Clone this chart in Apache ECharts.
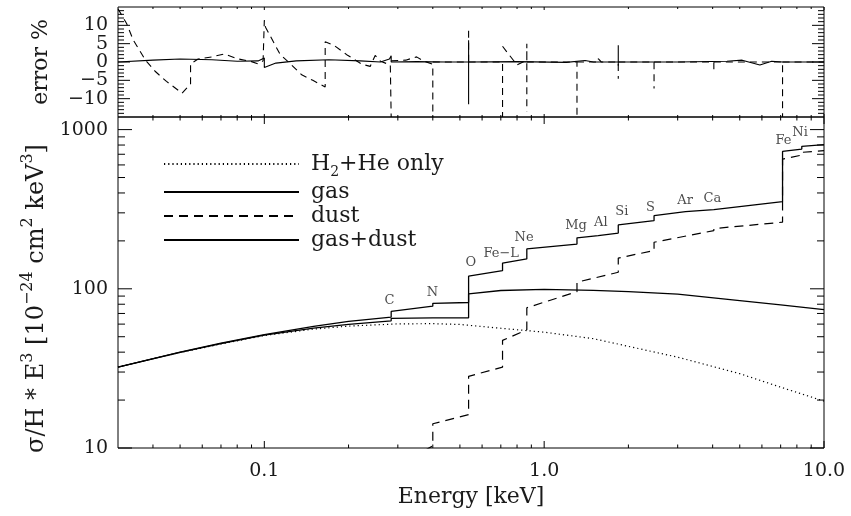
<!DOCTYPE html>
<html><head><meta charset="utf-8">
<script src="https://cdn.jsdelivr.net/npm/echarts@6/dist/echarts.min.js"></script>
<style>html,body{margin:0;padding:0;background:#fff}#c{width:851px;height:516px}</style>
</head><body><div id="c"></div>
<script>
// ---- series data [Energy keV, value] ----
const h2heOnly = [[0.03,32.2],[0.04,36.3],[0.05,39.8],[0.07,45],[0.1,50.9],[0.15,55.8],[0.2,58.3],[0.3,60.2],[0.4,60.4],[0.5,59.7],[0.7,56.5],[1,53.4],[1.5,48.6],[2,43.5],[3,37.2],[5,29.3],[7,24.1],[10,19.7]];
const gas = [[0.03,32.2],[0.05,39.9],[0.07,45.2],[0.1,51.2],[0.15,56.6],[0.2,59.8],[0.284,62.9],[0.284,65.2],[0.4,65.6],[0.537,65.8],[0.537,93],[0.7,97.6],[1,99.3],[1.5,97.8],[2,96],[3,92.5],[5,84.4],[7,79.3],[10,74]];
const dust = [[0.3,7.8],[0.40,10.3],[0.40,14.2],[0.537,16.2],[0.537,28.2],[0.71,32.2],[0.71,47.4],[0.867,55.3],[0.867,76],[1.31,96],[1.31,110],[1.84,127],[1.84,156],[2.47,174],[2.47,196],[4.04,232],[4.04,239],[7.11,262],[7.11,653],[8.33,692],[8.33,720],[10,738]];
const gasDust = [[0.03,32.2],[0.05,40],[0.07,45.6],[0.1,51.5],[0.1,52.2],[0.15,58],[0.2,62.4],[0.284,66.4],[0.284,72.1],[0.40,77.8],[0.40,81],[0.537,82],[0.537,120],[0.71,130],[0.71,145],[0.867,154],[0.867,178],[1.31,191],[1.31,209],[1.56,216],[1.56,218],[1.84,224],[1.84,252],[2.47,268],[2.47,288],[3.2,305],[3.2,310],[4.04,314],[4.04,322],[7.11,353],[7.11,729],[8.33,755],[8.33,785],[10,804]];
// ---- error panel [Energy keV, error %]; '-' marks a pen lift ----
const errSolid = [[0.03,0],[0.04,0.5],[0.05,0.8],[0.065,0.6],[0.08,0.2],[0.095,0.3],[0.1,1.1],[0.1,-1.5],[0.11,-0.3],[0.13,0.3],[0.17,0.6],[0.22,0.3],[0.26,0],[0.28,0.8],[0.284,1.7],[0.284,0],[0.35,0.1],[0.45,0],[0.537,0],[0.537,5.9],[0.537,-11.5],[0.537,0],[0.8,0.1],[1.2,-0.1],[1.4,0.4],[1.5,0],[1.84,0],[1.84,4.6],[1.84,-1],[1.84,0],[3,0],[4.5,0.2],[5.1,0.5],[5.9,-0.8],[6.5,0.2],[7.11,0],[10,0]];
const errDashed = [[0.03,14.5],[0.0322,10.5],[0.034,6],[0.0376,0.5],[0.0408,-2.6],[0.0447,-5.3],[0.0508,-8.5],[0.0545,-6],[0.0545,-0.5],[0.058,0.8],[0.065,1.4],[0.072,2.2],[0.08,0.9],[0.09,0.1],[0.095,-0.5],[0.099,0.3],[0.1,11.4],[0.101,9.5],[0.114,2],[0.122,0],[0.136,-3.5],[0.149,-5],[0.165,-6.8],[0.165,5.5],[0.177,4.6],[0.197,2],[0.223,-0.6],[0.239,-1.2],[0.249,1.8],[0.26,0.2],[0.282,-0.8],[0.284,-15],[0.284,'-'],[0.284,0.3],[0.32,0.5],[0.35,1.4],[0.37,0.3],[0.40,-0.6],[0.40,-15],[0.40,'-'],[0.40,0],[0.537,0],[0.537,9.6],[0.537,'-'],[0.537,0],[0.71,0],[0.71,-15],[0.71,'-'],[0.71,4.3],[0.74,2.5],[0.80,-0.8],[0.84,0],[0.867,0],[0.867,5],[0.867,-13.5],[0.867,'-'],[0.867,0],[1.31,0],[1.31,-15],[1.31,'-'],[1.31,0],[1.56,0],[1.56,0.9],[1.6,0],[1.84,0],[1.84,-4.6],[1.84,'-'],[1.84,0],[2.47,0],[2.47,-7.2],[2.47,'-'],[2.47,0],[4.04,0],[4.04,-2.2],[4.04,'-'],[4.04,0],[7.11,0],[7.11,-15],[7.11,'-'],[7.11,0],[10,0]];
// ---- edge annotations ----
const elemNames = ['C','N','O','Fe\u2212L','Ne','Mg','Al','Si','S','Ar','Ca','Fe','Ni'];
const elemPos = [[0.280,84.5],[0.399,94.4],[0.547,147],[0.702,167],[0.848,209],[1.30,250],[1.594,262],[1.894,306],[2.40,325],[3.19,358],[3.99,367],[7.16,851],[8.21,960]];
// ---- axis ticks ----
const xMajorTicks = [0.1, 1, 10];
const xMinorTicks = [0.04,0.05,0.06,0.07,0.08,0.09,0.2,0.3,0.4,0.5,0.6,0.7,0.8,0.9,2,3,4,5,6,7,8,9];
const yMajorTicks = [10, 100, 1000];
const yMinorTicks = [20,30,40,50,60,70,80,90,200,300,400,500,600,700,800,900];
const errTicks = [-14,-13,-12,-11,-10,-9,-8,-7,-6,-5,-4,-3,-2,-1,0,1,2,3,4,5,6,7,8,9,10,11,12,13,14];
const legendNames = ['H2+He only','gas','dust','gas+dust'];

const FONT = "'DejaVu Serif', serif";
const TXT = '#1a1a1a';
const X0 = 0.03, X1 = 10, Y0 = 10, Y1 = 1200, E0 = -15, E1 = 15;

function near(v, arr){ return arr.find(t => Math.abs(v - t) / Math.abs(t || 1) < 1e-6); }

function tickSeries(xi, yi, dir, ticks, other, lenMaj, lenMin) {
  return {
    type: 'custom', xAxisIndex: xi, yAxisIndex: yi, silent: true, z: 5, clip: false,
    data: ticks.map(t => dir === 'x' ? [t[0], other[0], t[1]] : [other[0], t[0], t[1]]),
    renderItem(params, api) {
      const v = api.value(dir === 'x' ? 0 : 1);
      const L = api.value(2) ? lenMaj : lenMin;
      const st = {stroke: '#000', lineWidth: 1};
      if (dir === 'x') {
        const a = api.coord([v, other[0]]), b = api.coord([v, other[1]]);
        return {type: 'group', children: [
          {type: 'line', shape: {x1: a[0], y1: a[1], x2: a[0], y2: a[1] - L}, style: st},
          {type: 'line', shape: {x1: b[0], y1: b[1], x2: b[0], y2: b[1] + L}, style: st}]};
      }
      const a = api.coord([other[0], v]), b = api.coord([other[1], v]);
      return {type: 'group', children: [
        {type: 'line', shape: {x1: a[0], y1: a[1], x2: a[0] + L, y2: a[1]}, style: st},
        {type: 'line', shape: {x1: b[0], y1: b[1], x2: b[0] - L, y2: b[1]}, style: st}]};
    }
  };
}

const xTicks = xMajorTicks.map(v => [v, 1]).concat(xMinorTicks.map(v => [v, 0]));
const yTicks = yMajorTicks.map(v => [v, 1]).concat(yMinorTicks.map(v => [v, 0]));
const eTicks = errTicks.map(v => [v, v % 5 === 0 ? 1 : 0]);

const chart = echarts.init(document.getElementById('c'), null, {renderer: 'canvas'});
const lineBase = {type: 'line', symbol: 'none', showSymbol: false, animation: false, silent: true, connectNulls: false};

chart.setOption({
  backgroundColor: '#fff',
  animation: false,
  grid: [
    {left: 118, top: 7, width: 706, height: 110, show: true, borderColor: '#000', borderWidth: 1, backgroundColor: 'transparent'},
    {left: 118, top: 117, width: 706, height: 331, show: true, borderColor: '#000', borderWidth: 1, backgroundColor: 'transparent'}
  ],
  xAxis: [
    {type: 'log', gridIndex: 0, min: X0, max: X1, axisLine: {show: false}, axisTick: {show: false}, axisLabel: {show: false}, splitLine: {show: false}},
    {type: 'log', gridIndex: 1, min: X0, max: X1, axisLine: {show: false}, axisTick: {show: false}, splitLine: {show: false},
      axisLabel: {margin: 14, fontFamily: FONT, fontSize: 19, color: TXT,
        formatter: v => { const t = near(v, xMajorTicks); return t ? t.toFixed(1) : ''; }},
      name: 'Energy [keV]', nameLocation: 'middle', nameGap: 36,
      nameTextStyle: {fontFamily: FONT, fontSize: 22, color: TXT}}
  ],
  yAxis: [
    {type: 'value', gridIndex: 0, min: E0, max: E1, interval: 5, axisLine: {show: false}, axisTick: {show: false}, splitLine: {show: false},
      axisLabel: {margin: 10, fontFamily: FONT, fontSize: 19, color: TXT,
        formatter: v => Math.abs(v) >= 15 ? '' : (v < 0 ? '\u2212' + Math.abs(v) : String(v))},
      name: 'error %', nameLocation: 'middle', nameRotate: 90, nameGap: 66,
      nameTextStyle: {fontFamily: FONT, fontSize: 22, color: TXT}},
    {type: 'log', gridIndex: 1, min: Y0, max: Y1, axisLine: {show: false}, axisTick: {show: false}, splitLine: {show: false},
      axisLabel: {margin: 10, fontFamily: FONT, fontSize: 19, color: TXT,
        formatter: v => { const t = near(v, yMajorTicks); return t ? String(t) : ''; }},
      name: '{m|\u03c3/H * E}{s|3}{m| [10}{s|\u221224}{m| cm}{s|2}{m| keV}{s|3}{m|]}',
      nameLocation: 'middle', nameRotate: 90, nameGap: 64,
      nameTextStyle: {fontFamily: FONT, fontSize: 24, color: TXT, padding: [0, 32, 0, 0],
        rich: {m: {fontFamily: FONT, fontSize: 24, color: TXT, lineHeight: 34, verticalAlign: 'middle'},
               s: {fontFamily: FONT, fontSize: 16, color: TXT, lineHeight: 16, verticalAlign: 'top'}}}}
  ],
  legend: {
    show: true, orient: 'vertical', left: 158, top: 144, itemWidth: 135, itemHeight: 14, itemGap: 2,
    data: legendNames, selectedMode: false,
    itemStyle: {opacity: 0, borderWidth: 0},
    textStyle: {fontFamily: FONT, fontSize: 22, color: TXT, lineHeight: 22, padding: [0, 0, 0, 7],
      rich: {n: {fontFamily: FONT, fontSize: 22, color: TXT, lineHeight: 22, verticalAlign: 'middle'},
             b: {fontFamily: FONT, fontSize: 14, color: TXT, lineHeight: 14, verticalAlign: 'bottom'},
             f: {fontFamily: FONT, fontSize: 22, color: TXT, lineHeight: 30, verticalAlign: 'middle'}}},
    formatter: name => name === 'H2+He only' ? '{f|H}{b|2}{f|+He only}' : '{n|' + name + '}'
  },
  series: [
    Object.assign({}, lineBase, {name: 'H2+He only', xAxisIndex: 1, yAxisIndex: 1, data: h2heOnly,
      lineStyle: {color: '#000', width: 1.2, type: [1.2, 3]}, itemStyle: {color: '#000'}}),
    Object.assign({}, lineBase, {name: 'gas', xAxisIndex: 1, yAxisIndex: 1, data: gas,
      lineStyle: {color: '#000', width: 1.3, type: 'solid'}, itemStyle: {color: '#000'}}),
    Object.assign({}, lineBase, {name: 'dust', xAxisIndex: 1, yAxisIndex: 1, data: dust,
      lineStyle: {color: '#000', width: 1.2, type: [9, 6]}, itemStyle: {color: '#000'}}),
    Object.assign({}, lineBase, {name: 'gas+dust', xAxisIndex: 1, yAxisIndex: 1, data: gasDust,
      lineStyle: {color: '#000', width: 1.3, type: 'solid'}, itemStyle: {color: '#000'}}),
    Object.assign({}, lineBase, {name: 'errSolid', xAxisIndex: 0, yAxisIndex: 0, data: errSolid,
      lineStyle: {color: '#000', width: 1.1, type: 'solid'}}),
    Object.assign({}, lineBase, {name: 'errDashed', xAxisIndex: 0, yAxisIndex: 0, data: errDashed,
      lineStyle: {color: '#000', width: 1.1, type: [7, 5]}}),
    {type: 'scatter', name: 'edges', xAxisIndex: 1, yAxisIndex: 1, symbolSize: 0, silent: true,
      data: elemPos.map((p, i) => ({name: elemNames[i], value: p})),
      label: {show: true, position: 'inside', formatter: '{b}', fontFamily: FONT, fontSize: 13, color: TXT}},
    tickSeries(0, 0, 'x', xTicks, [E0, E1], 3, 2),
    tickSeries(0, 0, 'y', eTicks, [X0, X1], 12, 6),
    tickSeries(1, 1, 'x', xTicks, [Y0, Y1], 7, 3.5),
    tickSeries(1, 1, 'y', yTicks, [X0, X1], 14, 7)
  ]
});
</script></body></html>
